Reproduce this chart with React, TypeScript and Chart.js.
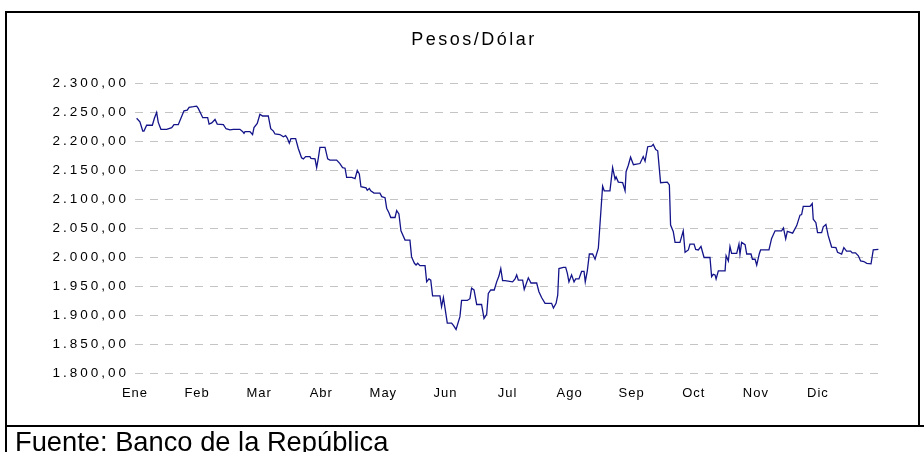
import React, { useEffect, useRef } from "react";
import { Chart, registerables } from "chart.js";

Chart.register(...registerables);

const chartTitle = "Pesos/Dólar";
const sourceNote = "Fuente: Banco de la República";
const monthLabels = ["Ene", "Feb", "Mar", "Abr", "May", "Jun", "Jul", "Ago", "Sep", "Oct", "Nov", "Dic"];
const yMin = 1800;
const yMax = 2300;
const yStep = 50;

// day of year
const days = [
  0.8, 2.4, 3.8, 4.4, 5.7, 8.5, 9.5, 10.6, 11.4, 12.7,
  15.5, 18.0, 19.1, 21.2, 22.5, 24.0, 25.6, 26.5, 28.6, 30.2,
  31.0, 33.2, 35.6, 36.3, 37.6, 39.2, 40.3, 43.3, 44.6, 46.5,
  48.2, 51.4, 52.8, 53.4, 53.9, 56.3, 57.6, 58.3, 59.9, 61.2,
  62.5, 65.3, 66.5, 67.8, 68.6, 71.0, 72.7, 73.8, 74.6, 75.6,
  76.4, 78.7, 80.0, 81.6, 82.5, 83.6, 85.7, 86.2, 88.2, 89.0,
  89.8, 90.6, 93.1, 94.4, 95.5, 98.8, 100.4, 101.7, 102.9, 103.7,
  106.2, 107.8, 108.9, 109.9, 110.7, 113.2, 113.8, 114.8, 115.5, 117.1,
  120.0, 120.9, 122.5, 123.3, 124.4, 125.3, 127.4, 128.2, 129.3, 130.3,
  132.3, 134.7, 135.5, 136.9, 137.7, 138.5, 139.6, 142.1, 142.9, 144.0,
  144.9, 145.8, 149.4, 150.2, 151.1, 153.0, 155.1, 156.0, 157.3, 159.2,
  160.0, 162.8, 164.1, 164.9, 166.1, 167.4, 169.8, 171.0, 172.3, 173.1,
  174.3, 176.0, 177.2, 178.3, 179.2, 180.1, 181.3, 185.0, 186.2, 187.0,
  187.8, 189.9, 190.7, 192.7, 194.0, 196.8, 197.9, 199.2, 200.9, 204.1,
  205.0, 206.3, 207.1, 207.7, 209.9, 211.0, 211.8, 212.6, 213.9, 215.1,
  215.9, 217.5, 218.8, 220.0, 220.6, 221.6, 222.6, 224.2, 225.4, 227.0,
  229.1, 229.9, 232.7, 234.0, 235.2, 235.7, 236.8, 238.9, 240.1, 240.6,
  241.7, 242.8, 244.2, 247.4, 249.0, 249.9, 251.2, 253.1, 253.9, 255.1,
  256.1, 257.5, 260.8, 261.8, 262.4, 263.7, 264.6, 267.0, 268.6, 269.5,
  271.1, 271.9, 273.9, 274.7, 276.0, 277.3, 278.8, 281.7, 282.5, 283.3,
  284.2, 284.7, 285.8, 289.1, 289.6, 290.7, 291.5, 292.3, 294.8, 295.9,
  296.4, 297.2, 298.9, 299.7, 301.8, 302.5, 303.8, 304.6, 305.9, 306.5,
  310.6, 311.9, 313.6, 316.8, 317.7, 318.8, 319.6, 322.2, 324.2, 325.8,
  326.6, 327.4, 330.7, 331.8, 332.3, 333.6, 334.4, 336.4, 337.2, 338.5,
  339.6, 341.3, 343.4, 344.2, 346.2, 347.3, 348.6, 350.6, 351.4, 353.0,
  354.4, 355.5, 357.1, 358.5, 360.6, 361.7, 364.2,
];

// pesos per dollar
const rates = [
  2240, 2234, 2218, 2218, 2228, 2228, 2240, 2250, 2233, 2221,
  2221, 2224, 2229, 2229, 2240, 2253, 2254, 2259, 2260, 2261,
  2257, 2241, 2241, 2230, 2232, 2238, 2230, 2229, 2222, 2220,
  2221, 2221, 2217, 2214, 2217, 2217, 2212, 2224, 2231, 2247,
  2244, 2244, 2222, 2218, 2213, 2212, 2208, 2210, 2206, 2197,
  2205, 2205, 2188, 2172, 2170, 2174, 2174, 2171, 2170, 2155,
  2171, 2190, 2190, 2170, 2168, 2168, 2162, 2155, 2154, 2138,
  2138, 2136, 2150, 2144, 2122, 2120, 2116, 2119, 2115, 2111,
  2111, 2105, 2103, 2085, 2077, 2069, 2069, 2081, 2075, 2046,
  2030, 2030, 2001, 1990, 1987, 1990, 1986, 1986, 1958, 1963,
  1961, 1934, 1934, 1915, 1931, 1887, 1887, 1883, 1876, 1898,
  1926, 1926, 1929, 1947, 1944, 1919, 1919, 1895, 1902, 1938,
  1944, 1944, 1958, 1968, 1981, 1960, 1960, 1958, 1963, 1970,
  1961, 1961, 1945, 1965, 1956, 1956, 1941, 1931, 1921, 1921,
  1913, 1921, 1935, 1981, 1983, 1983, 1973, 1958, 1970, 1958,
  1963, 1963, 1976, 1976, 1958, 1977, 2006, 2006, 1997, 2016,
  2123, 2115, 2115, 2155, 2135, 2139, 2130, 2129, 2115, 2148,
  2159, 2173, 2160, 2162, 2174, 2166, 2191, 2192, 2195, 2186,
  2184, 2129, 2130, 2125, 2056, 2045, 2026, 2026, 2046, 2009,
  2013, 2023, 2023, 2014, 2013, 2019, 2000, 2000, 1967, 1971,
  1970, 1963, 1977, 1977, 2003, 1994, 2019, 2007, 2007, 2023,
  2006, 2026, 2022, 2006, 2006, 1997, 1997, 1987, 2007, 2013,
  2013, 2033, 2046, 2046, 2051, 2032, 2045, 2042, 2055, 2073,
  2074, 2088, 2088, 2093, 2066, 2060, 2043, 2043, 2053, 2057,
  2038, 2018, 2017, 2009, 2006, 2017, 2011, 2011, 2008, 2008,
  2003, 1994, 1993, 1990, 1989, 2013, 2014,
];

const FONT = "'Liberation Sans', Arial, Helvetica, sans-serif";

function formatEs(v: number): string {
  const [intPart, dec] = v.toFixed(2).split(".");
  return intPart.replace(/\B(?=(\d{3})+(?!\d))/g, ".") + "," + dec;
}

export default function App() {
  const canvasRef = useRef<HTMLCanvasElement | null>(null);

  useEffect(() => {
    if (!canvasRef.current) return;
    const points = days.map((d, i) => ({ x: d, y: rates[i] }));
    const chart: any = new Chart(canvasRef.current, {
      type: "line",
      data: {
        datasets: [
          {
            data: points,
            borderColor: "#14148a",
            borderWidth: 1.3,
            pointRadius: 0,
            tension: 0,
            fill: false,
          },
        ],
      },
      options: {
        animation: false,
        responsive: false,
        devicePixelRatio: 1,
        layout: { padding: { left: 20, right: 44, top: 29.7, bottom: 0 } },
        plugins: {
          legend: { display: false },
          tooltip: { enabled: false },
          title: {
            display: true,
            text: chartTitle,
            color: "#000",
            font: { family: FONT, size: 18, weight: "normal" },
            padding: { top: 0, bottom: 32.2 },
          },
        },
        scales: {
          x: {
            type: "linear",
            min: 0,
            max: 365,
            afterBuildTicks: (scale: any) => {
              scale.ticks = monthLabels.map((_, i) => ({ value: (i * 365) / 12 }));
            },
            afterFit: (scale: any) => {
              scale.height = 78.5;
            },
            ticks: {
              autoSkip: false,
              maxRotation: 0,
              padding: 12,
              color: "#000",
              font: { family: FONT, size: 13 },
              callback: (_v: any, i: number) => monthLabels[i],
            },
            grid: { display: false, drawTicks: false },
            border: { display: false },
          },
          y: {
            min: yMin,
            max: yMax,
            afterFit: (scale: any) => {
              scale.width = 115;
            },
            ticks: {
              stepSize: yStep,
              padding: 6,
              color: "#000",
              font: { family: FONT, size: 13.5 },
              callback: (v: any) => formatEs(Number(v)),
            },
            grid: { color: "#c4c4c4", lineWidth: 1, drawTicks: false },
            border: { display: false, dash: [8, 7] },
          },
        },
      },
    });

    // widen the lettering like the reference, and shift the title as in the reference
    const ctx: any = chart.ctx;
    const wrap = (obj: any, method: string, spacing: string, dx: number) => {
      if (!obj || typeof obj[method] !== "function") return;
      const orig = obj[method];
      obj[method] = function (...args: any[]) {
        ctx.save();
        ctx.letterSpacing = spacing;
        if (dx) ctx.translate(dx, 0);
        try {
          return orig.apply(this, args);
        } finally {
          ctx.restore();
        }
      };
    };
    wrap(chart.scales.y, "drawLabels", "3px", 0);
    wrap(chart.scales.x, "drawLabels", "1px", 0);
    wrap(chart.titleBlock, "draw", "2.5px", 24);
    chart.draw();

    return () => chart.destroy();
  }, []);

  return (
    <div style={{ position: "fixed", left: 0, top: 0, width: 924, height: 452, background: "#fff", overflow: "hidden" }}>
      <canvas ref={canvasRef} width={924} height={452} style={{ position: "absolute", left: 0, top: 0, width: 924, height: 452 }} />
      <div style={{ position: "absolute", left: 5, top: 11, width: 911, height: 412, border: "2px solid #000", pointerEvents: "none" }} />
      <div style={{ position: "absolute", left: 5, top: 425, width: 919, height: 2, background: "#000" }} />
      <div style={{ position: "absolute", left: 5, top: 425, width: 2, height: 27, background: "#000" }} />
      <div
        style={{
          position: "absolute",
          left: 15,
          top: 428,
          fontFamily: FONT,
          fontSize: 27.3,
          lineHeight: "27px",
          color: "#000",
          whiteSpace: "nowrap",
        }}
      >
        {sourceNote}
      </div>
    </div>
  );
}
